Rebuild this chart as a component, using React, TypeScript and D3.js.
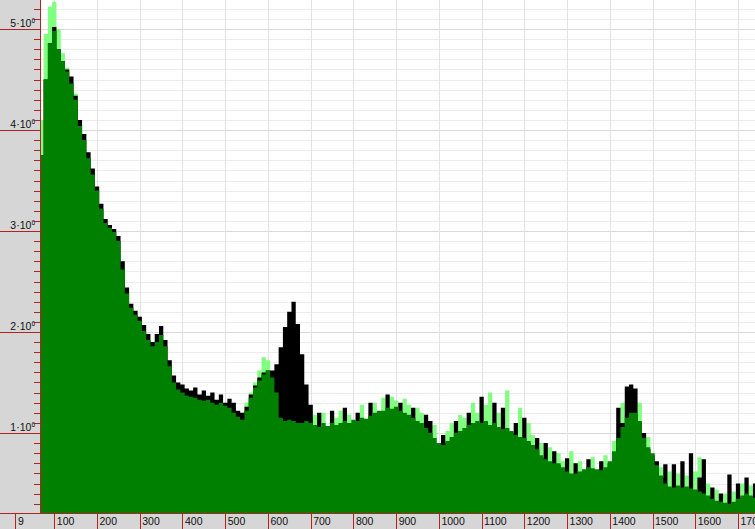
import * as d3 from 'd3'

// histogram bins: first edge and width (x units)
const BIN_FIRST = 65
const BIN_WIDTH = 10

const xTicks = [9, 100, 200, 300, 400, 500, 600, 700, 800, 900, 1000, 1100, 1200, 1300, 1400, 1500, 1600, 1700]
const yMajor = [1, 2, 3, 4, 5] // millions

// values in millions, one per bin
const darkGreen = [
  3.75, 4.5, 4.86, 4.98, 4.8, 4.68, 4.58, 4.46, 4.3, 4.04,
  3.9, 3.72, 3.56, 3.4, 3.22, 3.08, 3.03, 2.99, 2.9, 2.62,
  2.38, 2.24, 2.17, 2.11, 2.01, 1.92, 1.86, 1.9, 1.97, 1.86,
  1.66, 1.5, 1.43, 1.4, 1.37, 1.36, 1.35, 1.33, 1.32, 1.33,
  1.3, 1.28, 1.3, 1.27, 1.25, 1.2, 1.16, 1.13, 1.22, 1.35,
  1.45, 1.52, 1.58, 1.62, 1.55, 1.4, 1.15, 1.12, 1.13, 1.12,
  1.1, 1.1, 1.12, 1.1, 1.08, 1.06, 1.1, 1.07, 1.1, 1.08,
  1.1, 1.12, 1.1, 1.13, 1.12, 1.15, 1.14, 1.17, 1.2, 1.22,
  1.22, 1.25, 1.24, 1.26, 1.22, 1.2, 1.18, 1.15, 1.12, 1.1,
  1.05, 1.0, 0.95, 0.9, 0.88, 0.92, 0.96, 1.0, 1.02, 1.05,
  1.08, 1.1, 1.12, 1.1, 1.12, 1.08, 1.1, 1.06, 1.04, 1.05,
  1.02, 0.98, 0.96, 0.95, 0.92, 0.88, 0.84, 0.78, 0.74, 0.72,
  0.7, 0.7, 0.66, 0.62, 0.6, 0.6, 0.62, 0.64, 0.66, 0.65,
  0.64, 0.63, 0.66, 0.72, 0.82, 0.95, 1.06, 1.15, 1.2, 1.2,
  1.12, 0.95, 0.86, 0.8, 0.68, 0.58, 0.5, 0.47, 0.46, 0.48,
  0.46, 0.47, 0.45, 0.44, 0.42, 0.4, 0.38, 0.35, 0.33, 0.32,
  0.31, 0.3, 0.32, 0.35, 0.38, 0.4, 0.38, 0.36,
]

const black = [
  3.75, 4.5, 4.86, 5.02, 4.8, 4.68, 4.6, 4.53, 4.34, 4.1,
  3.96, 3.78, 3.62, 3.44, 3.27, 3.12, 3.06, 3.02, 2.95, 2.7,
  2.44, 2.28, 2.21, 2.15, 2.07, 1.98, 1.9, 1.98, 2.06, 1.92,
  1.72, 1.57, 1.5, 1.48, 1.44, 1.42, 1.45, 1.38, 1.42, 1.37,
  1.4, 1.33, 1.38, 1.3, 1.34, 1.3, 1.22, 1.2, 1.26, 1.38,
  1.47, 1.55, 1.6, 1.62, 1.62, 1.68, 1.85, 2.05, 2.2, 2.3,
  2.08, 1.78, 1.48, 1.28, 1.0, 1.2, 1.0, 1.05, 1.22, 1.0,
  1.05, 1.25, 1.0, 1.1, 1.2, 1.1, 1.1, 1.3, 1.1, 1.2,
  1.15, 1.38, 1.2, 1.2, 1.3, 1.1, 1.1, 1.25, 1.1, 1.05,
  1.18, 1.12, 0.9, 0.85, 0.98, 0.9, 0.9, 1.12, 1.0, 1.0,
  1.2, 1.05, 1.1, 1.36, 1.1, 1.05, 1.3, 1.0, 1.25, 1.0,
  1.0, 1.1, 0.9, 1.15, 0.9, 0.85, 0.95, 0.75, 0.9, 0.7,
  0.82, 0.68, 0.65, 0.75, 0.58, 0.7, 0.6, 0.6, 0.74, 0.62,
  0.6, 0.72, 0.62, 0.7, 0.8, 1.25, 1.1, 1.46, 1.48, 1.44,
  1.1, 1.0, 0.84, 0.78, 0.72, 0.56, 0.69, 0.45, 0.69, 0.46,
  0.72, 0.45, 0.8, 0.42, 0.56, 0.74, 0.36, 0.46, 0.32, 0.4,
  0.3, 0.59, 0.3, 0.5, 0.36, 0.56, 0.36, 0.5,
]

const lightGreen = [
  4.1, 4.95, 5.22, 5.27, 5.0, 4.76, 4.62, 4.48, 4.36, 4.06,
  3.9, 3.72, 3.56, 3.4, 3.22, 3.08, 3.03, 2.99, 2.9, 2.62,
  2.38, 2.24, 2.17, 2.11, 2.01, 1.92, 1.86, 1.9, 1.97, 1.86,
  1.66, 1.5, 1.43, 1.4, 1.37, 1.36, 1.35, 1.33, 1.32, 1.33,
  1.3, 1.28, 1.3, 1.27, 1.25, 1.2, 1.16, 1.2, 1.3, 1.4,
  1.5, 1.62, 1.75, 1.72, 1.6, 1.45, 1.2, 1.15, 1.18, 1.15,
  1.2, 1.12, 1.22, 1.15, 1.18, 1.0, 1.2, 1.0, 1.05, 1.15,
  1.22, 1.05, 1.18, 1.05, 1.1, 1.28, 1.05, 1.1, 1.3, 1.15,
  1.35, 1.2, 1.36, 1.32, 1.2, 1.34, 1.28, 1.1, 1.25, 1.2,
  1.1, 0.98, 1.08, 0.88, 0.86, 1.02, 1.1, 0.98, 1.18, 1.15,
  1.05, 1.3, 1.2, 1.08, 1.28, 1.4, 1.08, 1.2, 1.02, 1.42,
  1.0, 0.96, 1.25, 0.92, 1.1, 0.98, 0.82, 0.9, 0.72, 0.86,
  0.68, 0.8, 0.72, 0.6, 0.82, 0.58, 0.72, 0.62, 0.64, 0.76,
  0.62, 0.62, 0.78, 0.7, 0.92, 1.1, 1.3, 1.28, 1.3, 1.3,
  1.3, 0.94, 0.96, 0.78, 0.66, 0.66, 0.48, 0.62, 0.45, 0.6,
  0.45, 0.58, 0.44, 0.62, 0.76, 0.38, 0.5, 0.34, 0.44, 0.31,
  0.4, 0.29, 0.42, 0.34, 0.5, 0.38, 0.48, 0.35,
]

const W = 755
const H = 529
const plotLeft = 40
const plotBottom = 513
const red = '#b22222'
const panel = '#d6d6d6'
const font = '"Liberation Sans", Arial, sans-serif'

type Pt = { edge: number; v: number }

export default function App() {
  const x = d3.scaleLinear().domain([100, 1700]).range([54.3, 738])
  const y = d3.scaleLinear().domain([0, 5e6]).range([534, 29])

  const toPoints = (arr: number[]): Pt[] => {
    const pts = arr.map((v, i) => ({ edge: BIN_FIRST + i * BIN_WIDTH, v }))
    pts.push({ edge: BIN_FIRST + arr.length * BIN_WIDTH, v: arr[arr.length - 1] })
    return pts
  }

  const area = d3.area<Pt>()
    .curve(d3.curveStepAfter)
    .x(d => x(d.edge))
    .y0(plotBottom)
    .y1(d => y(d.v * 1e6))

  const minor = d3.range(3, 53).map(k => k * 1e5)

  return (
    <svg width={W} height={H} style={{ position: 'fixed', left: 0, top: 0, background: '#fff' }}>
      <defs>
        <clipPath id="plot">
          <rect x={plotLeft} y={0} width={W - plotLeft} height={plotBottom} />
        </clipPath>
      </defs>

      {/* grid */}
      <g shapeRendering="crispEdges">
        {minor.map(v => (
          <line key={v} x1={plotLeft} x2={W} y1={Math.round(y(v)) + 0.5} y2={Math.round(y(v)) + 0.5}
            stroke={v % 1e6 === 0 ? '#d9d9d9' : '#ececec'} />
        ))}
        {xTicks.map(t => (
          <line key={t} x1={Math.round(x(t)) + 0.5} x2={Math.round(x(t)) + 0.5} y1={0} y2={plotBottom}
            stroke="#e3e3e3" />
        ))}
      </g>

      {/* series */}
      <g clipPath="url(#plot)">
        <path d={area(toPoints(lightGreen)) ?? ''} fill="#80ff80" />
        <path d={area(toPoints(black)) ?? ''} fill="#000" />
        <path d={area(toPoints(darkGreen)) ?? ''} fill="#008000" />
      </g>

      {/* left axis panel */}
      <rect x={0} y={0} width={plotLeft} height={plotBottom} fill={panel} />
      <g shapeRendering="crispEdges">
        {minor.map(v => (
          <line key={v} x1={v % 1e6 === 0 ? 0 : 34} x2={plotLeft}
            y1={Math.round(y(v)) + 0.5} y2={Math.round(y(v)) + 0.5} stroke={red} />
        ))}
        <line x1={plotLeft + 0.5} x2={plotLeft + 0.5} y1={0} y2={plotBottom} stroke={red} />
      </g>
      {yMajor.map(m => (
        <text key={m} x={35} y={y(m * 1e6) - 2} textAnchor="end" fontFamily={font} fontSize={10.5} fill="#111">
          {`${m}·10`}
          <tspan fontSize={6.5} dy={-4}>6</tspan>
        </text>
      ))}

      {/* bottom axis panel */}
      <rect x={0} y={plotBottom} width={W} height={H - plotBottom} fill={panel} />
      <g shapeRendering="crispEdges">
        <line x1={0} x2={W} y1={plotBottom + 0.5} y2={plotBottom + 0.5} stroke={red} />
        {xTicks.map(t => (
          <line key={t} x1={Math.round(x(t)) + 0.5} x2={Math.round(x(t)) + 0.5} y1={plotBottom} y2={H}
            stroke={red} />
        ))}
      </g>
      {xTicks.map(t => (
        <text key={t} x={x(t) + 2.5} y={525} fontFamily={font} fontSize={10.5} fill="#111">{t}</text>
      ))}
    </svg>
  )
}
